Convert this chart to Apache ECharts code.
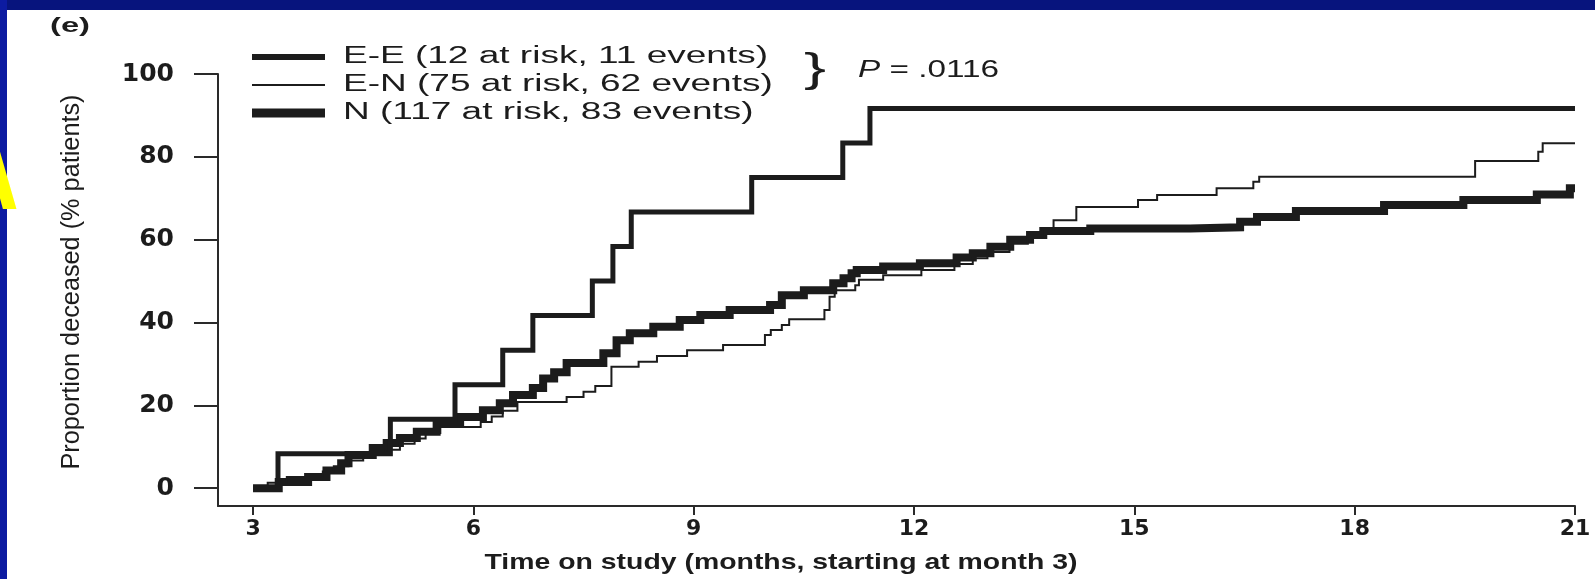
<!DOCTYPE html>
<html><head><meta charset="utf-8">
<script src="https://cdn.jsdelivr.net/npm/echarts@6/dist/echarts.min.js"></script>
<style>html,body{margin:0;padding:0;background:#fff;}#c{width:1595px;height:579px;}</style>
</head><body><div id="c"></div>
<script>
// ---- data ----
const xTicks = [3, 6, 9, 12, 15, 18, 21];
const yTicks = [0, 20, 40, 60, 80, 100];
const seriesNames = ['E-E', 'E-N', 'N'];
const legendLabels = ['E-E (12 at risk, 11 events)', 'E-N (75 at risk, 62 events)', 'N (117 at risk, 83 events)'];
const pLabel = '.0116';
const xTitle = 'Time on study (months, starting at month 3)';
const yTitle = 'Proportion deceased (% patients)';
const panelLabel = '(e)';

const eeData = [[3,0],[3.34,8.33],[4.87,16.67],[5.75,25],[6.40,33.33],[6.81,41.67],[7.62,50],[7.90,58.33],[8.15,66.67],[9.79,75],[11.03,83.33],[11.40,91.67],[21,91.67]];
const enData = [[3,0],[3.2,1.3],[3.46,2.7],[3.95,4.0],[4.1,5.3],[4.3,6.7],[4.5,8.0],[4.8,9.3],[5.0,10.7],[5.2,12.0],[5.35,13.3],[5.55,14.8],[6.1,16.0],[6.25,17.3],[6.4,18.7],[6.6,20.8],[7.27,22.0],[7.5,23.3],[7.66,24.7],[7.88,29.3],[8.25,30.5],[8.5,31.9],[8.91,33.3],[9.40,34.6],[9.97,37.0],[10.05,38.2],[10.2,39.4],[10.3,40.8],[10.78,43.0],[10.85,46.2],[10.92,47.8],[11.2,49.0],[11.25,50.3],[11.58,51.4],[12.1,52.7],[12.55,54.1],[12.8,55.5],[13.0,57.0],[13.3,59.0],[13.55,61.0],[13.75,62.5],[13.9,64.7],[14.21,67.9],[15.05,69.6],[15.31,70.8],[16.12,72.4],[16.62,74.0],[16.7,75.2],[19.64,79.0],[20.5,81.2],[20.56,83.3],[21,83.3]];
const nData = [[3,0],[3.35,1.5],[3.75,2.7],[4.0,4.3],[4.2,6.0],[4.3,8.0],[4.63,9.7],[4.82,10.9],[5.0,12.1],[5.23,13.6],[5.5,15.7],[5.82,17.2],[6.13,18.8],[6.36,20.5],[6.54,22.5],[6.81,24.2],[6.95,26.5],[7.1,28.0],[7.27,30.2],[7.77,32.6],[7.95,35.7],[8.13,37.4],[8.45,39.0],[8.81,40.6],[9.09,41.8],[9.49,43.0],[10.04,44.2],[10.2,46.6],[10.5,47.8],[10.9,49.5],[11.04,50.7],[11.15,51.9],[11.22,52.7],[11.58,53.5],[12.08,54.3],[12.58,55.7],[12.8,56.7],[13.04,58.3],[13.31,60.0],[13.58,61.1],[13.76,62.1],[14.4,62.7],[15.76,63.0],[16.44,64.3],[16.67,65.5],[17.2,66.9],[18.4,68.4],[19.48,69.6],[20.48,70.9],[20.93,72.4],[21,72.4]];

// ---- layout / style ----
const INK = '#1c1c1c';
const SANS = "'Liberation Sans', Arial, sans-serif";
const lineWidths = [5, 2, 8];
const legendWidths = [6, 2, 9];
const ctx = document.createElement('canvas').getContext('2d');
function tw(text, font) { ctx.font = font; return ctx.measureText(text).width; }
function txt(text, font, x, y, width, align, extra) {
  const s = width ? width / tw(text, font) : 1;
  return Object.assign({
    type: 'text', x: x, y: y, scaleX: s, scaleY: 1, z: 50,
    style: { text: text, font: font, fill: INK, align: align, verticalAlign: 'middle', textAlign: align, textVerticalAlign: 'middle' }
  }, extra || {});
}

const graphics = [];
graphics.push({ type: 'rect', z: 60, shape: { x: 0, y: 0, width: 1595, height: 10 }, style: { fill: '#07147d' } });
graphics.push({ type: 'rect', z: 60, shape: { x: 0, y: 0, width: 7, height: 579 }, style: { fill: '#0c1ba1' } });
graphics.push({ type: 'text', z: 70, x: 19, y: 176, scaleX: 0.8, style: { text: 'A', font: 'bold 118px ' + SANS, fill: '#ffff00', align: 'right', verticalAlign: 'middle', textAlign: 'right', textVerticalAlign: 'middle' } });
graphics.push(txt(panelLabel, 'bold 20px ' + SANS, 50, 26, 40, 'left'));

// legend
const legRows = [57, 85, 113];
const legFont = '23px ' + SANS;
const legScale = 425 / tw(legendLabels[0], legFont);
legendLabels.forEach(function (lab, i) {
  graphics.push({ type: 'line', z: 50, shape: { x1: 252, y1: legRows[i], x2: 325, y2: legRows[i] }, style: { stroke: INK, lineWidth: legendWidths[i] } });
  graphics.push(txt(lab, legFont, 343, legRows[i], tw(lab, legFont) * legScale, 'left'));
});
const braceY = (legRows[0] + legRows[1]) / 2;
graphics.push(txt('}', '40px ' + SANS, 815, braceY, 22, 'center'));
const pFontI = 'italic 23px ' + SANS;
const pScale = legScale * 0.9;
const pW = tw('P', pFontI) * pScale;
graphics.push(txt('P', pFontI, 858, braceY, pW, 'left'));
graphics.push(txt(' = ' + pLabel, legFont, 858 + pW, braceY, tw(' = ' + pLabel, legFont) * pScale, 'left'));

// axis titles
const yFont = '22px ' + SANS;
graphics.push({ type: 'text', z: 50, x: 72, y: 282, rotation: Math.PI / 2, scaleX: 375 / tw(yTitle, yFont), scaleY: 1.2,
  style: { text: yTitle, font: yFont, fill: INK, align: 'center', verticalAlign: 'middle', textAlign: 'center', textVerticalAlign: 'middle' } });
graphics.push(txt(xTitle, 'bold 22px ' + SANS, 781, 563, 593, 'center'));

const chart = echarts.init(document.getElementById('c'), null, { renderer: 'canvas' });
const datasets = [eeData, enData, nData];
chart.setOption({
  animation: false,
  backgroundColor: '#ffffff',
  grid: { left: 218, right: 20, top: 74, bottom: 73, containLabel: false },
  xAxis: {
    type: 'value', min: 2.523, max: 21,
    axisLine: { show: true, onZero: false, lineStyle: { color: '#2a2a2a', width: 2 } },
    axisTick: { show: true, length: 9, customValues: xTicks, lineStyle: { color: '#2a2a2a', width: 2 } },
    axisLabel: { customValues: xTicks, margin: 12, color: INK, fontFamily: 'DejaVu Sans', fontWeight: 'bold', fontSize: 22 },
    splitLine: { show: false }
  },
  yAxis: {
    type: 'value', min: -4.3, max: 100,
    axisLine: { show: true, onZero: false, lineStyle: { color: '#2a2a2a', width: 2 } },
    axisTick: { show: true, length: 24, customValues: yTicks, lineStyle: { color: '#2a2a2a', width: 2 } },
    axisLabel: { customValues: yTicks, margin: 44, color: INK, fontFamily: 'DejaVu Sans', fontWeight: 'bold', fontSize: 25 },
    splitLine: { show: false }
  },
  series: [2, 1, 0].map(function (i) {
    return { name: seriesNames[i], type: 'line', step: 'end', data: datasets[i], symbol: 'none', silent: true,
      lineStyle: { color: INK, width: lineWidths[i], cap: 'butt', join: 'miter' } };
  }),
  graphic: { elements: graphics }
});
</script>
</body></html>
